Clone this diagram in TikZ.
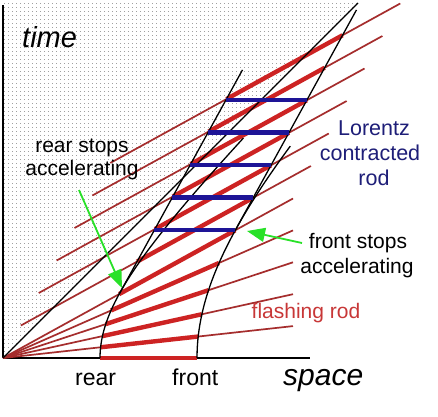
\documentclass[tikz,border=0pt]{standalone}
\usepackage{fontspec}
\setmainfont{Liberation Sans}
\usetikzlibrary{calc,arrows.meta,patterns.meta}
\definecolor{rodred}{RGB}{205,35,35}
\definecolor{thinred}{RGB}{165,45,45}
\definecolor{rodblue}{RGB}{30,20,150}
\definecolor{arrgreen}{RGB}{40,225,40}
\definecolor{lblred}{RGB}{200,55,55}
\definecolor{lblblue}{RGB}{30,30,120}
\tikzdeclarepattern{name=stipple, type=uncolored,
  bounding box={(0,0) and (4pt,4pt)}, tile size={(4pt,4pt)},
  code={\fill (2pt,2pt) circle (0.45pt);}}
\begin{document}
\begin{tikzpicture}[x=1pt,y=1pt,
  thinray/.style={thinred, line width=1.7pt},
  thickray/.style={rodred, line width=4.4pt},
  wline/.style={black, line width=1.3pt},
  bar/.style={rodblue, line width=4.5pt},
  axisline/.style={black, line width=2pt},
  lbl/.style={inner sep=0pt, anchor=base},
  pointer/.style={arrgreen, line width=1.8pt, -{Triangle[length=18pt,width=14pt]}}]
\useasboundingbox (-3,-58) rectangle (435,358);
\fill[white] (-3,-58) rectangle (435,358);
\fill[pattern=stipple, pattern color=black!65] (0,0) -- (0,356) -- (356,356) -- cycle;

\coordinate (O) at (0,0);
\coordinate (s) at (17.875,32.5);
\coordinate (R0) at (116.15,63.88);
\coordinate (F0) at (232.29,127.76);
\coordinate (E0) at (290,159.5);
\coordinate (B0) at (151.28,127.76);

% axes
\coordinate (xend) at (307,0);
\coordinate (ytop) at (0,353);
\draw[axisline] (O) -- (xend);
\draw[axisline] (O) -- (ytop);

% flashing rod on the axis
\coordinate (r0) at (97,0);
\coordinate (f0) at (194,0);
\draw[thickray] (r0) -- (f0);

% fan of simultaneity lines while accelerating
\foreach \v/\g in {0.11/1.00612, 0.22/1.02512, 0.33/1.05934, 0.44/1.11359} {
  \coordinate (r) at ({97*\g},{97*\g*\v});
  \coordinate (f) at ({194*\g},{194*\g*\v});
  \coordinate (e) at (290,{290*\v});
  \draw[thinray] (O) -- (r);
  \draw[thinray] (f) -- (e);
  \draw[thickray] (r) -- (f);
}
% parallel simultaneity lines after stopping
\foreach \j in {0,...,6} {
  \draw[thinray] ($\j*(s)$) -- ($(R0)+\j*(s)$);
  \draw[thinray] ($(F0)+\j*(s)$) -- ($(E0)+\j*(s)$);
  \draw[thickray] ($(R0)+\j*(s)$) -- ($(F0)+\j*(s)$);
}

% light cone
\coordinate (lc) at (355,355);
\draw[wline] (O) -- (lc);
% hyperbolae
\draw[wline] plot[domain=0:1.5576, samples=60, variable=\u] ({97*cosh(\u)},{97*sinh(\u)});
\draw[wline] plot[domain=0:0.9455, samples=50, variable=\u] ({194*cosh(\u)},{194*sinh(\u)});
% inertial world lines
\coordinate (Rtop) at ($(R0)+6.9*(s)$);
\coordinate (Ftop) at ($(F0)+6.78*(s)$);
\draw[wline] (R0) -- (Rtop);
\draw[wline] (F0) -- (Ftop);

% Lorentz contracted rod
\foreach \k in {0,...,4} {
  \draw[bar] ($(B0)+\k*(s)$) -- ($(F0)+\k*(s)$);
}

% labels
\node[lbl, anchor=base west, font=\itshape\fontsize{29}{29}\selectfont] (timelbl) at (19,311) {time};
\node[lbl, anchor=base west, font=\itshape\fontsize{30}{30}\selectfont] (spacelbl) at (280,-27) {space};
\node[lbl, anchor=base west, font=\fontsize{23}{23}\selectfont] (rearlbl) at (72,-27) {rear};
\node[lbl, anchor=base west, font=\fontsize{23}{23}\selectfont] (frontlbl) at (169,-27) {front};
\node[lbl, font=\fontsize{21}{21}\selectfont] (rs1) at (79,206) {rear stops};
\node[lbl, font=\fontsize{21}{21}\selectfont] (rs2) at (79,183) {accelerating};
\node[lbl, font=\fontsize{21}{21}\selectfont] (fs1) at (355,110) {front stops};
\node[lbl, font=\fontsize{21}{21}\selectfont] (fs2) at (354,85) {accelerating};
\node[lbl, font=\fontsize{21}{21}\selectfont, text=lblred] (flash) at (303,40) {flashing rod};
\node[lbl, font=\fontsize{21.5}{21.5}\selectfont, text=lblblue] (lz1) at (371,223) {Lorentz};
\node[lbl, font=\fontsize{21.5}{21.5}\selectfont, text=lblblue] (lz2) at (367,198) {contracted};
\node[lbl, font=\fontsize{21.5}{21.5}\selectfont, text=lblblue] (lz3) at (371,173) {rod};

% pointers
\coordinate (rsTail) at (76,168);
\coordinate (rsTip) at (119,70);
\coordinate (fsTail) at (299,115);
\coordinate (fsTip) at (244,127);
\draw[pointer] (rsTail) -- (rsTip);
\draw[pointer] (fsTail) -- (fsTip);
\end{tikzpicture}
\end{document}
